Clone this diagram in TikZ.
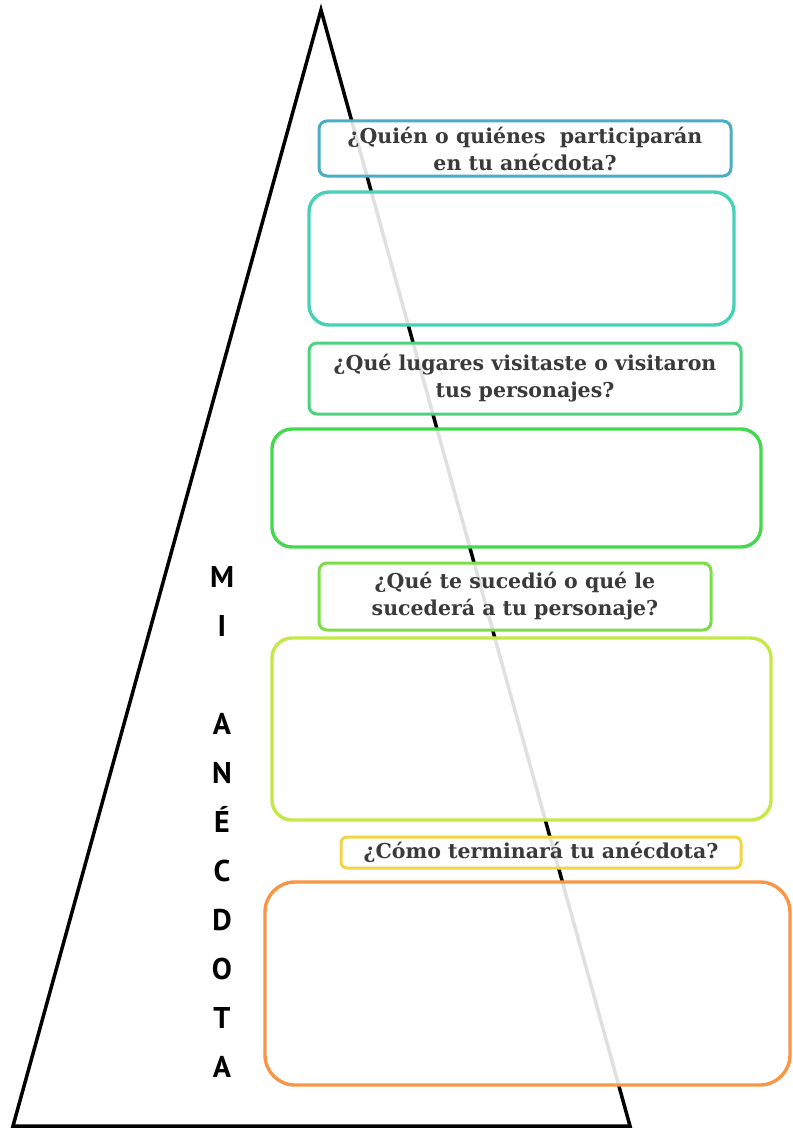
\documentclass[tikz,border=0pt]{standalone}
\usepackage{fontspec}
\setmainfont{DejaVu Serif}
\newfontfamily\titlefont{PT Sans}
\definecolor{txt}{HTML}{3A3A3A}
\definecolor{cblue}{HTML}{4BACC6}
\definecolor{cteal}{HTML}{48D1B4}
\definecolor{cgreenA}{HTML}{4CD27E}
\definecolor{cgreenB}{HTML}{44D84C}
\definecolor{cgreenC}{HTML}{7EDC4A}
\definecolor{clime}{HTML}{C4E845}
\definecolor{cyellow}{HTML}{F2D544}
\definecolor{corange}{HTML}{F79646}
\tikzset{
  qbox/.style={draw=#1, line width=3pt, rounded corners=8pt, fill=white, fill opacity=0.88, text opacity=1,
    align=center, text=txt, font=\fontsize{20.5}{27}\selectfont\bfseries, inner sep=0pt},
  abox/.style={draw=#1, line width=3.4pt, rounded corners=20pt, fill=white, fill opacity=0.88, inner sep=0pt},
}
\begin{document}
\begin{tikzpicture}[x=1pt,y=-1pt]
\useasboundingbox (0,0) rectangle (792,1129);
% triangle
\coordinate (apex) at (321,10);
\coordinate (bl) at (13,1126);
\coordinate (br) at (630,1126);
\draw[line width=3.5pt, line join=miter] (apex) -- (bl) -- (br) -- cycle;
% boxes
\node[qbox=cblue, minimum width=412pt, minimum height=55pt] (q1) at (525,148.5) {¿Quién o quiénes\ \ participarán\\en tu anécdota?};
\node[abox=cteal, minimum width=425pt, minimum height=133pt] (a1) at (521.5,258.5) {};
\node[qbox=cgreenA, minimum width=432pt, minimum height=71pt] (q2) at (525,378.5) {¿Qué lugares visitaste o visitaron\\tus personajes?};
\node[abox=cgreenB, minimum width=489pt, minimum height=118pt] (a2) at (516.5,488) {};
\node[qbox=cgreenC, minimum width=392pt, minimum height=67pt] (q3) at (515,596.5) {¿Qué te sucedió o qué le\\sucederá a tu personaje?};
\node[abox=clime, minimum width=499pt, minimum height=182pt] (a3) at (521.5,729) {};
\node[qbox=cyellow, minimum width=400pt, minimum height=31pt, rounded corners=6pt] (q4) at (541,852.5) {¿Cómo terminará tu anécdota?};
\node[abox=corange, minimum width=525pt, minimum height=203pt, rounded corners=30pt] (a4) at (527.5,983.5) {};
% vertical title
\node[font=\titlefont\bfseries\fontsize{30}{49}\selectfont, align=center, anchor=north, inner sep=0pt] (title) at (222,566)
  {M\\I\\[0pt]\strut\\A\\N\\É\\C\\D\\O\\T\\A};
\end{tikzpicture}
\end{document}
